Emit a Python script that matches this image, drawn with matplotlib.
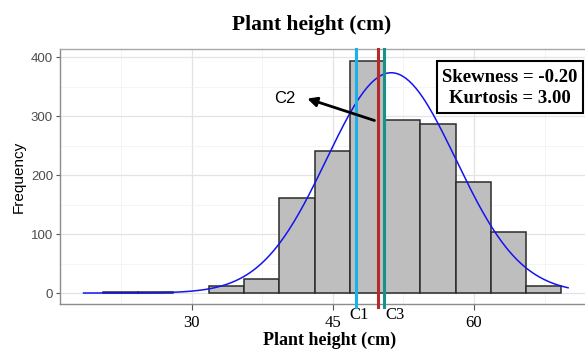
import numpy as np
import matplotlib
matplotlib.use("Agg")
import matplotlib.pyplot as plt
from matplotlib.patches import Rectangle

# histogram data
bin_start = 20.55
bin_width = 3.75
counts = [1, 1, 0, 12, 24, 161, 240, 394, 294, 286, 188, 104, 12]

# fitted normal overlay
fit_mean = 51.2
fit_sd = 6.88
curve_range = (18.5, 70.0)

# reference lines
c_names = ["C1", "C2", "C3"]
c_values = [47.5, 49.8, 50.4]
c_colors = ["#1AB2EA", "#B52A2A", "#17918A"]

x_ticks = [30, 45, 60]
y_ticks = [0, 100, 200, 300, 400]
skewness = -0.20
kurtosis = 3.00

SERIF = ["Liberation Serif", "DejaVu Serif"]
SANS = ["Liberation Sans", "DejaVu Sans"]

fig = plt.figure(figsize=(5.85, 3.5), dpi=100)
ax = fig.add_axes([0.1026, 0.1314, 0.8974, 0.7286])

# grid like ggplot theme_bw
ax.set_xticks(x_ticks)
ax.set_xticks([22.5, 37.5, 52.5, 67.5], minor=True)
ax.set_yticks(y_ticks)
ax.set_yticks([50, 150, 250, 350], minor=True)
ax.grid(which="major", color="#E3E3E3", lw=0.9)
ax.grid(which="minor", color="#F0F0F0", lw=0.5)
ax.set_axisbelow(True)

lefts = bin_start + bin_width * np.arange(len(counts))
heights = np.array(counts)
keep = heights > 0
ax.bar(lefts[keep], heights[keep], width=bin_width, align="edge",
       color="#BEBEBE", edgecolor="#2B2B2B", linewidth=1.1, zorder=2)

xs = np.linspace(curve_range[0], curve_range[1], 300)
n_total = sum(counts)
ys = n_total * bin_width * np.exp(-0.5 * ((xs - fit_mean) / fit_sd) ** 2) / (fit_sd * np.sqrt(2 * np.pi))
ax.plot(xs, ys, color="#1414F0", lw=1.1, zorder=3)

for v, col in zip(c_values, c_colors):
    ax.axvline(v, ymin=-0.01, ymax=1, color=col, lw=2.2, zorder=4, clip_on=False)

ax.set_xlim(16.0, 71.8)
ax.set_ylim(-18.6, 413.6)

for s in ["left", "bottom", "top"]:
    ax.spines[s].set_color("#8C8C8C")
    ax.spines[s].set_linewidth(1.0)
ax.spines["top"].set_color("#A8A8A8")
ax.spines["right"].set_visible(False)

ax.tick_params(axis="y", length=3, width=0.8, color="#555555", pad=2,
               labelsize=9.5, labelcolor="#4D4D4D")
ax.tick_params(axis="x", length=4, width=0.8, color="#555555", pad=4,
               labelsize=12)
ax.tick_params(which="minor", length=0)
for lab in ax.get_yticklabels():
    lab.set_family(SANS)
for lab in ax.get_xticklabels():
    lab.set_family(SERIF)

# C1 / C3 labels under the axis
ax.text(c_values[0] + 0.3, -24, c_names[0], ha="center", va="top", fontsize=12,
        family=SERIF, clip_on=False)
ax.text(c_values[2] + 1.2, -24, c_names[2], ha="center", va="top", fontsize=12,
        family=SERIF, clip_on=False)

# C2 arrow
ax.annotate("", xy=(42.0, 331), xytext=(49.7, 291),
            arrowprops=dict(arrowstyle="-|>", color="black", lw=2.0,
                            mutation_scale=14), zorder=5)
ax.text(39.9, 330, c_names[1], ha="center", va="center", fontsize=12, family=SANS)

# stats box
ax.add_patch(Rectangle((0.718, 0.749), 0.278, 0.204, transform=ax.transAxes,
                       facecolor="white", edgecolor="black", lw=1.5, zorder=6,
                       clip_on=False))
ax.text(0.857, 0.888, f"Skewness = {skewness:.2f}", transform=ax.transAxes,
        ha="center", va="center", fontsize=13.5, fontweight="bold", family=SERIF, zorder=7)
ax.text(0.857, 0.806, f"Kurtosis = {kurtosis:.2f}", transform=ax.transAxes,
        ha="center", va="center", fontsize=13.5, fontweight="bold", family=SERIF, zorder=7)

ax.set_xlabel("Plant height (cm)", fontsize=13, fontweight="bold", family=SERIF)
ax.xaxis.set_label_coords(0.514, -0.108)
ax.set_ylabel("Frequency", fontsize=11, family=SANS, labelpad=4)
fig.text(0.532, 0.928, "Plant height (cm)", ha="center", va="center",
         fontsize=15.5, fontweight="bold", family=SERIF)

fig.savefig("out.png", dpi=100)
